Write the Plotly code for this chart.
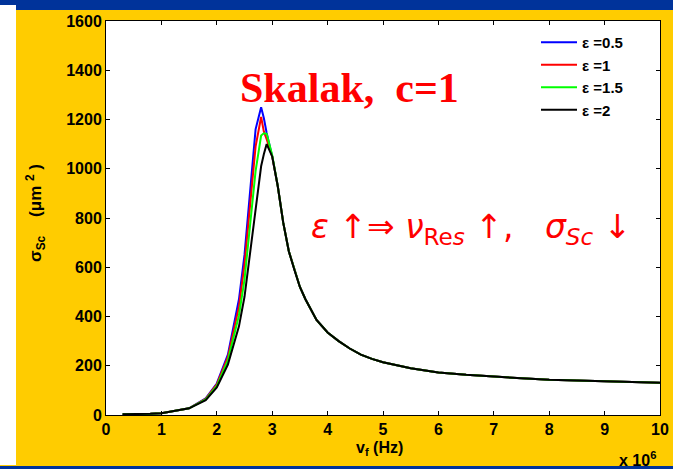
import plotly.graph_objects as go

# Frequency grid (units of 1e6 Hz)
freq = [0.3, 0.5, 0.8, 1.0, 1.2, 1.5, 1.8, 2.0, 2.2, 2.4, 2.5, 2.6, 2.7, 2.8, 2.85,
        2.9, 3.0, 3.1, 3.2, 3.3, 3.4, 3.5, 3.6, 3.8, 4.0, 4.2, 4.4, 4.6, 4.8, 5.0,
        5.5, 6.0, 6.5, 7.0, 7.5, 8.0, 8.5, 9.0, 9.5, 10.0]

# Shared tail of the scattering cross-section (um^2), from 3.1 MHz onward
tail = [930, 780, 665, 590, 520, 470, 386, 335, 300, 270, 245, 228, 214,
        190, 173, 163, 155, 149, 143, 140, 136, 132, 131]
low = [3, 3, 5, 7, 14, 27]

sigma_eps05 = low + [68, 128, 245, 470, 650, 900, 1160, 1250, 1205, 1145, 1050] + tail
sigma_eps1 = low + [66, 124, 235, 440, 610, 840, 1090, 1210, 1150, 1120, 1050] + tail
sigma_eps15 = low + [63, 118, 222, 405, 550, 760, 990, 1135, 1144, 1142, 1055] + tail
sigma_eps2 = low + [60, 112, 205, 360, 480, 660, 850, 1010, 1060, 1100, 1050] + tail

series_names = ["\u03b5 =0.5", "\u03b5 =1", "\u03b5 =1.5", "\u03b5 =2"]
series_values = [sigma_eps05, sigma_eps1, sigma_eps15, sigma_eps2]
series_colors = ["#0000FF", "#FF0000", "#00FF00", "#000000"]

x_ticks = list(range(0, 11))
y_ticks = list(range(0, 1601, 200))

W, H = 673, 469
L, R, T, B = 106, 13, 21, 54
pw, ph = W - L - R, H - T - B


def px(x):
    return (x - L) / pw


def py(y):
    return (H - B - y) / ph


fig = go.Figure()
for name, vals, col in zip(series_names, series_values, series_colors):
    fig.add_trace(go.Scatter(x=freq, y=vals, mode="lines", name=name,
                             line=dict(color=col, width=2)))

bold = dict(family="Arial, Liberation Sans, sans-serif", size=16, color="black",
            weight="bold")

axis_common = dict(showgrid=False, zeroline=False, showline=True, linecolor="black",
                   linewidth=1, mirror="ticks", ticks="inside", ticklen=4,
                   tickcolor="black", tickfont=bold, automargin=False)

fig.update_layout(
    width=W, height=H,
    margin=dict(l=L, r=R, t=T, b=B, autoexpand=False),
    paper_bgcolor="#FFCC00",
    plot_bgcolor="white",
    xaxis=dict(range=[0, 10], tickvals=x_ticks, **axis_common),
    yaxis=dict(range=[0, 1600], tickvals=y_ticks, **axis_common),
    legend=dict(x=px(536), y=py(26), xanchor="left", yanchor="top",
                bgcolor="rgba(0,0,0,0)", font=dict(bold, size=15), tracegroupgap=0,
                itemwidth=36),
    showlegend=True,
)

# slide frame: blue bands top and bottom, white strip on the left
fig.add_shape(type="rect", xref="paper", yref="paper", x0=px(0), x1=px(W),
              y0=py(0), y1=py(10), fillcolor="#00339A", line_width=0, layer="below")
fig.add_shape(type="rect", xref="paper", yref="paper", x0=px(0), x1=px(W),
              y0=py(466), y1=py(H), fillcolor="#00339A", line_width=0, layer="below")
fig.add_shape(type="rect", xref="paper", yref="paper", x0=px(0), x1=px(16),
              y0=py(5), y1=py(465), fillcolor="white", line_width=0, layer="below")

# axis titles
fig.add_annotation(text="v<sub>f</sub> (Hz)", xref="paper", yref="paper",
                   x=px(379), y=py(449), xanchor="center", yanchor="middle",
                   showarrow=False, font=dict(bold, size=16))
fig.add_annotation(text="x 10<sup>6</sup>", xref="paper", yref="paper",
                   x=px(637), y=py(459), xanchor="center", yanchor="middle",
                   showarrow=False, font=dict(bold, size=16))
fig.add_annotation(
    text="\u03c3<sub>Sc</sub>\u00a0\u00a0\u00a0\u00a0(\u03bcm\u00a0<sup>2</sup>\u00a0)",
    xref="paper", yref="paper", x=px(35), y=py(213), textangle=-90,
    xanchor="center", yanchor="middle",
    showarrow=False, font=dict(bold, size=17))

# in-plot labels
fig.add_annotation(text="Skalak,\u00a0 c=1", xref="paper", yref="paper",
                   x=px(349), y=py(88), xanchor="center", yanchor="middle",
                   showarrow=False,
                   font=dict(family="Liberation Serif", size=42, color="#FF0000",
                             weight="bold"))
fig.add_annotation(
    text="<i>\u03b5</i> \u2191\u21d2 <i>\u03bd</i><sub>Re<i>s</i></sub> \u2191,"
         "\u00a0\u00a0\u00a0<i>\u03c3</i><sub><i>Sc</i></sub> \u2193",
    xref="paper", yref="paper", x=px(471), y=py(228), xanchor="center",
    yanchor="middle", showarrow=False,
    font=dict(family="DejaVu Sans, sans-serif", size=33, color="#FF0000"))

fig.write_html("out.html")
